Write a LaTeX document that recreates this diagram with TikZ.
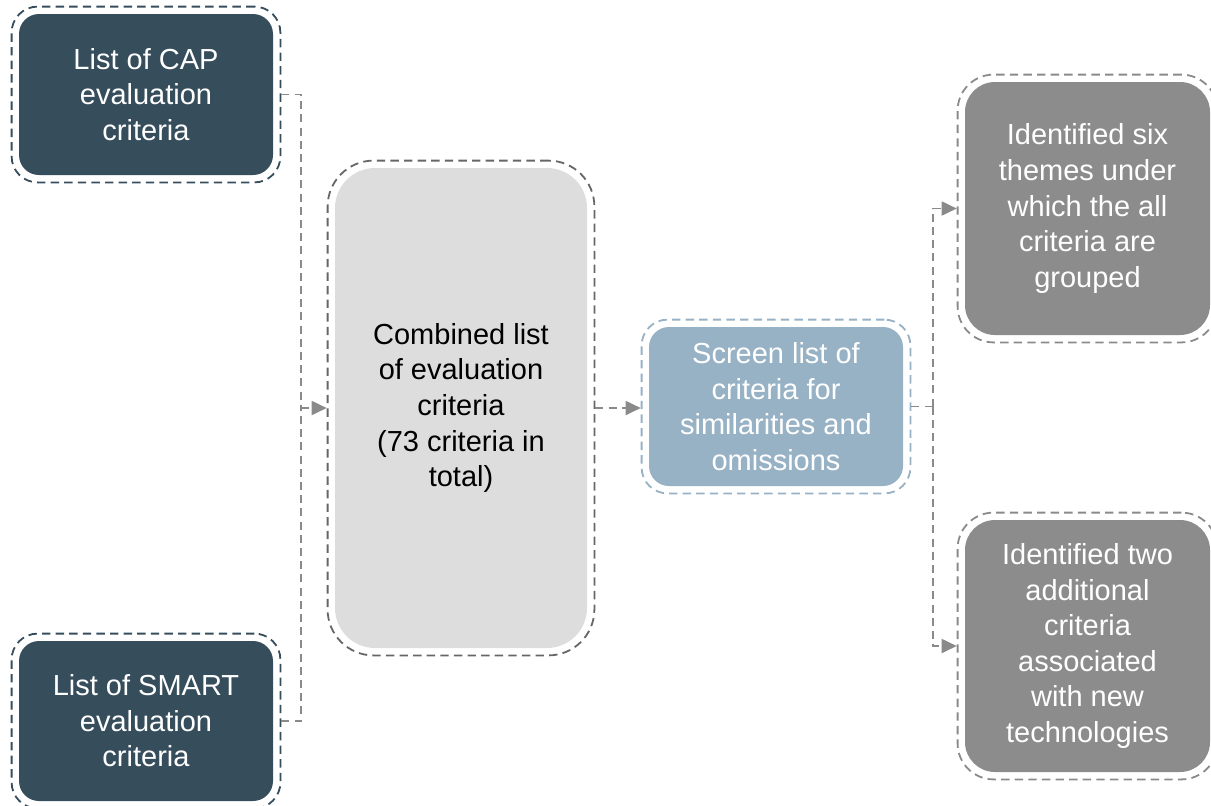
\documentclass[tikz,border=0pt]{standalone}
\usepackage{fontspec}
\setmainfont{Liberation Sans}
\usetikzlibrary{positioning,fit,arrows.meta}
\definecolor{slate}{HTML}{364D5C}
\definecolor{steel}{HTML}{97B1C5}
\definecolor{midgray}{HTML}{8C8C8C}
\definecolor{lightgray}{HTML}{DDDDDD}
\definecolor{linegray}{HTML}{8A8A8A}
\begin{document}
\begin{tikzpicture}[x=0.5pt,y=-0.5pt,
    box/.style={rounded corners=10pt, align=center, inner sep=0pt,
      font=\fontsize{14.5}{17.8}\selectfont},
    halo/.style={draw, dashed, dash pattern=on 4.2pt off 2.6pt, line width=0.9pt,
      rounded corners=13pt, inner sep=3.5pt},
    conn/.style={draw=linegray, line width=0.9pt, dash pattern=on 4pt off 2.6pt},
    arr/.style={conn, -{Triangle[length=7.5pt,width=7pt]}}]
    \useasboundingbox (0,0) rectangle (1211,805);
    % source lists
    \node[box, fill=slate, text=white, minimum width=127pt, minimum height=80.5pt] (cap) at (146,94.5) {List of CAP\\evaluation\\criteria};
    \node[halo, draw=slate, fit=(cap)] (capo) {};
    \node[box, fill=slate, text=white, minimum width=127pt, minimum height=80pt] (smart) at (146,721) {List of SMART\\evaluation\\criteria};
    \node[halo, draw=slate, fit=(smart)] (smarto) {};
    % combined list
    \node[box, rounded corners=20pt, fill=lightgray, text=black, minimum width=126pt, minimum height=240pt] (comb) at (461,408) {Combined list\\of evaluation\\criteria\\(73 criteria in\\total)};
    \node[halo, draw=black!60, rounded corners=23pt, fit=(comb)] (combo) {};
    % screening step
    \node[box, fill=steel, text=white, minimum width=127pt, minimum height=79.5pt] (screen) at (776,406.5) {Screen list of\\criteria for\\similarities and\\omissions};
    \node[halo, draw=steel, fit=(screen)] (screeno) {};
    % outcomes
    \node[box, rounded corners=15pt, fill=midgray, text=white, minimum width=122.5pt, minimum height=126.5pt] (themes) at (1087.5,208.5) {Identified six\\themes under\\which the all\\criteria are\\grouped};
    \node[halo, draw=linegray, rounded corners=18pt, fit=(themes)] (themeso) {};
    \node[box, rounded corners=15pt, fill=midgray, text=white, minimum width=122.5pt, minimum height=126pt] (extra) at (1087.5,646) {Identified two\\additional\\criteria\\associated\\with new\\technologies};
    \node[halo, draw=linegray, rounded corners=18pt, fit=(extra)] (extrao) {};
    % connectors
    \coordinate (jl) at (301,408);
    \coordinate (jr) at (933,406.5);
    \draw[conn] (capo.east) -| (jl);
    \draw[conn] (smarto.east) -| (jl);
    \draw[arr] (jl) -- (combo.west);
    \draw[arr] (combo.east) -- (screeno.west |- combo.east);
    \draw[conn] (screeno.east) -- (jr);
    \draw[arr] (jr) |- (themeso.west);
    \draw[arr] (jr) |- (extrao.west);
\end{tikzpicture}
\end{document}
